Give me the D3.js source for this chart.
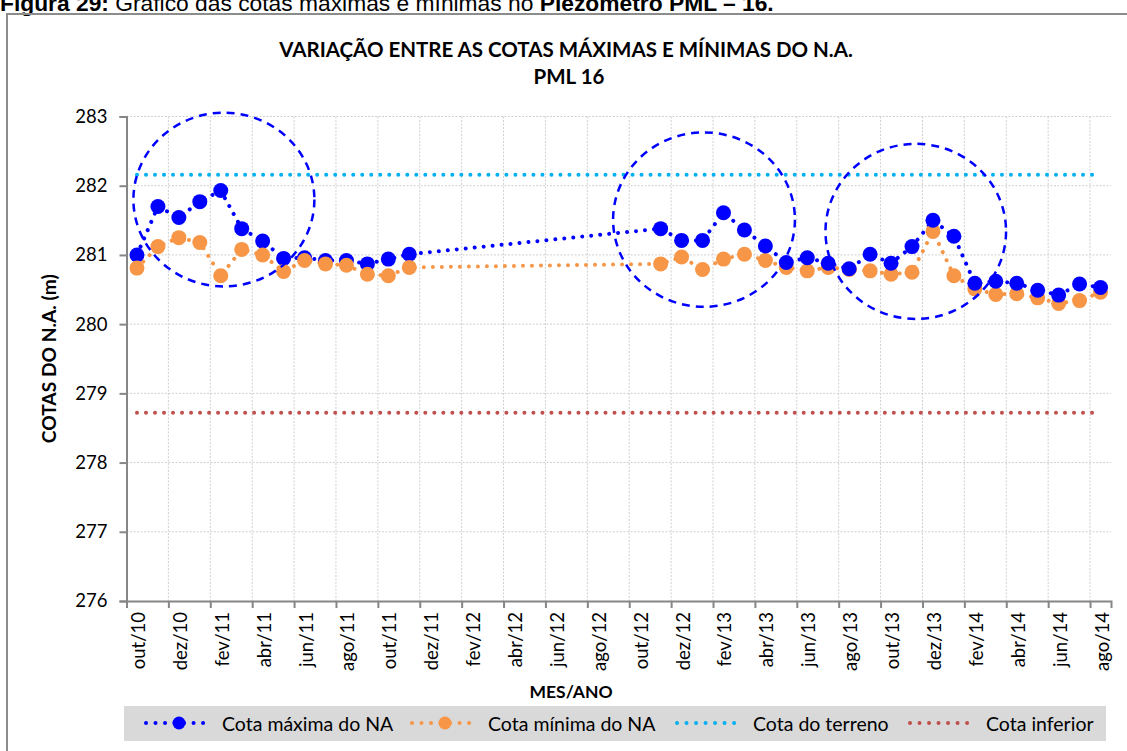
<!DOCTYPE html>
<html>
<head>
<meta charset="utf-8">
<script src="https://cdn.jsdelivr.net/npm/d3@7"></script>
<style>
  html, body { margin: 0; padding: 0; background: #fff; overflow: hidden; }
  svg { display: block; }
  text { font-family: Lato, "Open Sans", sans-serif; fill: #000; }
</style>
</head>
<body>
<svg id="chart" width="1127" height="751"></svg>
<script>
// month labels, oct/2010 .. aug/2014 (one slot per month)
const months = [
  'out/10', 'nov/10', 'dez/10',
  'jan/11', 'fev/11', 'mar/11', 'abr/11', 'mai/11', 'jun/11', 'jul/11', 'ago/11', 'set/11', 'out/11', 'nov/11', 'dez/11',
  'jan/12', 'fev/12', 'mar/12', 'abr/12', 'mai/12', 'jun/12', 'jul/12', 'ago/12', 'set/12', 'out/12', 'nov/12', 'dez/12',
  'jan/13', 'fev/13', 'mar/13', 'abr/13', 'mai/13', 'jun/13', 'jul/13', 'ago/13', 'set/13', 'out/13', 'nov/13', 'dez/13',
  'jan/14', 'fev/14', 'mar/14', 'abr/14', 'mai/14', 'jun/14', 'jul/14', 'ago/14',
];

// no readings between dez/11 and out/12
const cotaMaxima = [
  281.00, 281.70, 281.54, 281.77, 281.93, 281.38, 281.20, 280.95, 280.96, 280.92, 280.92, 280.87, 280.94, 281.01,
  null, null, null, null, null, null, null, null, null, null, null,
  281.38, 281.21, 281.21, 281.61, 281.36, 281.13, 280.89, 280.96, 280.88, 280.80, 281.01,
  280.88, 281.12, 281.50, 281.27, 280.59, 280.62, 280.59, 280.49, 280.42, 280.58, 280.53,
];
const cotaMinima = [
  280.81, 281.12, 281.25, 281.18, 280.70, 281.08, 281.00, 280.76, 280.92, 280.87, 280.85, 280.72, 280.70, 280.82,
  null, null, null, null, null, null, null, null, null, null, null,
  280.87, 280.97, 280.79, 280.94, 281.01, 280.92, 280.82, 280.77, 280.82, 280.79, 280.77,
  280.72, 280.75, 281.34, 280.70, 280.51, 280.43, 280.44, 280.38, 280.30, 280.34, 280.46,
];
const cotaTerreno = 282.16;
const cotaInferior = 278.72;

const yTicks = [276, 277, 278, 279, 280, 281, 282, 283];

// highlighted periods (centre month, centre level, radius in months / metres)
const destaques = [
  { mes: 4.65, cota: 281.80, rMes: 4.32, rCota: 1.255 },
  { mes: 27.57, cota: 281.51, rMes: 4.34, rCota: 1.26 },
  { mes: 37.68, cota: 281.34, rMes: 4.31, rCota: 1.265 },
];

const series = [
  { key: 'max', label: 'Cota máxima do NA', color: '#0000FF', values: cotaMaxima, marker: true },
  { key: 'min', label: 'Cota mínima do NA', color: '#F79646', values: cotaMinima, marker: true },
  { key: 'ter', label: 'Cota do terreno', color: '#00B0F0', values: months.map(() => cotaTerreno), marker: false },
  { key: 'inf', label: 'Cota inferior', color: '#C0504D', values: months.map(() => cotaInferior), marker: false },
];

const svg = d3.select('#chart');
const plot = { left: 126.5, right: 1111, top: 116.5, bottom: 601 };
const axisColor = '#868686';
const gridColor = '#D0D0D0';

const x = d3.scaleLinear().domain([0, months.length]).range([plot.left, plot.right]);
const y = d3.scaleLinear().domain([276, 283]).range([plot.bottom, plot.top]);
const xc = i => x(i + 0.5);

// caption above the chart box (cut at the top of the page, as in the source)
const caption = svg.append('text')
  .attr('x', 0)
  .attr('y', 11)
  .style('font-family', '"Liberation Sans", Arial, sans-serif')
  .style('font-size', '22.8px');
caption.append('tspan').style('font-weight', 'bold').text('Figura 29:');
caption.append('tspan').text(' Gráfico das cotas máximas e mínimas no ');
caption.append('tspan').style('font-weight', 'bold').text('Piezômetro PML – 16.');

svg.append('rect')
  .attr('x', 7)
  .attr('y', 14)
  .attr('width', 1200)
  .attr('height', 800)
  .attr('fill', 'none')
  .attr('stroke', '#8C8C8C')
  .attr('stroke-width', 2);

// title
svg.append('text')
  .attr('x', 566)
  .attr('y', 57)
  .attr('text-anchor', 'middle')
  .style('font-weight', 'bold')
  .style('font-size', '20.5px')
  .text('VARIAÇÃO ENTRE AS COTAS MÁXIMAS E MÍNIMAS DO N.A.');
svg.append('text')
  .attr('x', 569)
  .attr('y', 84)
  .attr('text-anchor', 'middle')
  .style('font-weight', 'bold')
  .style('font-size', '20.5px')
  .text('PML 16');

// gridlines
const grid = svg.append('g').attr('class', 'grid');
grid.selectAll('line.h')
  .data(yTicks.filter(d => d > 276))
  .enter()
  .append('line')
  .attr('class', 'h')
  .attr('x1', plot.left)
  .attr('x2', plot.right)
  .attr('y1', d => y(d))
  .attr('y2', d => y(d))
  .attr('stroke', gridColor)
  .attr('stroke-dasharray', '2 1.5');
grid.selectAll('line.v')
  .data(d3.range(2, months.length, 2))
  .enter()
  .append('line')
  .attr('class', 'v')
  .attr('x1', d => x(d))
  .attr('x2', d => x(d))
  .attr('y1', plot.top)
  .attr('y2', plot.bottom)
  .attr('stroke', gridColor)
  .attr('stroke-dasharray', '2 1.5');

// axes
const yAxis = svg.append('g')
  .attr('transform', `translate(${plot.left},0)`)
  .call(d3.axisLeft(y).tickValues(yTicks).tickSize(7).tickPadding(12).tickFormat(d3.format('d')));
const xAxis = svg.append('g')
  .attr('transform', `translate(0,${plot.bottom})`)
  .call(d3.axisBottom(x).tickValues(d3.range(0, months.length, 2)).tickSize(7).tickFormat(''));
[yAxis, xAxis].forEach(ax => {
  ax.select('.domain').attr('stroke', axisColor).attr('stroke-width', 2);
  ax.selectAll('.tick line').attr('stroke', axisColor).attr('stroke-width', 2);
});
yAxis.selectAll('.tick text')
  .style('font-family', 'Lato, sans-serif')
  .style('font-size', '18.5px')
  .attr('fill', '#000');

svg.append('g')
  .attr('class', 'x-labels')
  .selectAll('text')
  .data(d3.range(0, months.length, 2))
  .enter()
  .append('text')
  .attr('transform', d => `translate(${xc(d) + 1},612) rotate(-90)`)
  .attr('text-anchor', 'end')
  .attr('dominant-baseline', 'central')
  .style('font-size', '18.5px')
  .text(d => months[d]);

// axis titles
svg.append('text')
  .attr('transform', `translate(48,${(plot.top + plot.bottom) / 2}) rotate(-90)`)
  .attr('text-anchor', 'middle')
  .attr('dominant-baseline', 'central')
  .style('font-weight', 'bold')
  .style('font-size', '19.2px')
  .text('COTAS DO N.A. (m)');
svg.append('text')
  .attr('x', 571)
  .attr('y', 698)
  .attr('text-anchor', 'middle')
  .style('font-weight', 'bold')
  .style('font-size', '17.5px')
  .text('MES/ANO');

// series lines (round-dot pattern)
const line = d3.line()
  .defined(d => d.v != null)
  .x(d => xc(d.i))
  .y(d => y(d.v));
const lines = svg.append('g').attr('class', 'lines');
[series[2], series[3], series[0], series[1]].forEach(s => {
  const pts = s.values.map((v, i) => ({ i, v })).filter(d => d.v != null);
  lines.append('path')
    .datum(pts)
    .attr('d', line)
    .attr('fill', 'none')
    .attr('stroke', s.color)
    .attr('stroke-width', 4)
    .attr('stroke-linecap', 'round')
    .attr('stroke-dasharray', '0.01 9');
});

// markers; first run has the minimum on top, the second the maximum
const segments = [
  { from: 0, to: 13, order: ['max', 'min'] },
  { from: 25, to: 46, order: ['min', 'max'] },
];
const markers = svg.append('g').attr('class', 'markers');
segments.forEach(seg => {
  seg.order.forEach(key => {
    const s = series.find(d => d.key === key);
    markers.append('g')
      .selectAll('circle')
      .data(d3.range(seg.from, seg.to + 1).filter(i => s.values[i] != null))
      .enter()
      .append('circle')
      .attr('cx', i => xc(i))
      .attr('cy', i => y(s.values[i]))
      .attr('r', 7.5)
      .attr('fill', s.color);
  });
});

// dashed circles around the peaks
const pxPerMonth = x(1) - x(0);
const pxPerMetre = y(0) - y(1);
svg.append('g')
  .attr('class', 'destaques')
  .selectAll('ellipse')
  .data(destaques)
  .enter()
  .append('ellipse')
  .attr('cx', d => x(d.mes))
  .attr('cy', d => y(d.cota))
  .attr('rx', d => d.rMes * pxPerMonth)
  .attr('ry', d => d.rCota * pxPerMetre)
  .attr('fill', 'none')
  .attr('stroke', '#0000FF')
  .attr('stroke-width', 2.5)
  .attr('stroke-dasharray', '8 6');

// legend
const legend = svg.append('g').attr('class', 'legend');
legend.append('rect')
  .attr('x', 124)
  .attr('y', 706)
  .attr('width', 982)
  .attr('height', 35)
  .attr('fill', '#D9D9D9');
const legendX = [146, 412, 677, 910];
const item = legend.selectAll('g.item')
  .data(series)
  .enter()
  .append('g')
  .attr('class', 'item')
  .attr('transform', (d, i) => `translate(${legendX[i]},723)`);
item.append('line')
  .attr('x1', 0)
  .attr('x2', 66.5)
  .attr('stroke', d => d.color)
  .attr('stroke-width', 4)
  .attr('stroke-linecap', 'round')
  .attr('stroke-dasharray', '0.01 9.5');
item.filter(d => d.marker)
  .append('circle')
  .attr('cx', 33)
  .attr('r', 6.5)
  .attr('fill', d => d.color);
item.append('text')
  .attr('x', 76)
  .attr('dominant-baseline', 'central')
  .style('font-size', '19.5px')
  .text(d => d.label);
</script>
</body>
</html>
